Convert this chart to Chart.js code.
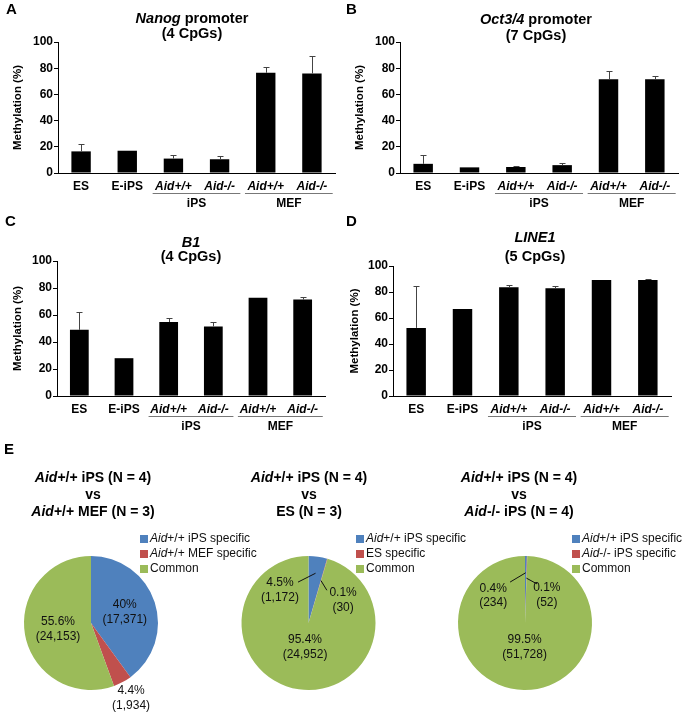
<!DOCTYPE html>
<html>
<head>
<meta charset="utf-8">
<script src="https://cdn.jsdelivr.net/npm/chart.js@4.4.1/dist/chart.umd.min.js"></script>
<style>
  body { margin: 0; background: #fff; width: 686px; height: 713px; position: relative; overflow: hidden; }
  canvas { position: absolute; }
</style>
</head>
<body>
<canvas id="chartA" width="343" height="214" style="left:0;top:0"></canvas>
<canvas id="chartB" width="343" height="214" style="left:343px;top:0"></canvas>
<canvas id="chartC" width="343" height="226" style="left:0;top:214px"></canvas>
<canvas id="chartD" width="343" height="226" style="left:343px;top:214px"></canvas>
<canvas id="pie1" width="262" height="273" style="left:0;top:440px"></canvas>
<canvas id="pie2" width="240" height="273" style="left:230px;top:440px"></canvas>
<canvas id="pie3" width="231" height="273" style="left:455px;top:440px"></canvas>
<script>
const FAMILY = "'Liberation Sans', Arial, sans-serif";
Chart.defaults.font.family = FAMILY;
Chart.defaults.color = "#000";

// --- bar charts (methylation %, mean and SD) ---
const categories = ["ES", "E-iPS", "Aid+/+", "Aid-/-", "Aid+/+", "Aid-/-"];
const groupNames = ["iPS", "MEF"];
const groupFrom = [2, 4];
const groupTo = [3, 5];

const nanogMean = [16.5, 17, 11, 10.5, 76.5, 76];
const nanogSd = [6, 0, 2.7, 2.2, 4.3, 13.5];
const oct4Mean = [7, 4.3, 4.6, 6, 71.5, 71.5];
const oct4Sd = [6.5, 0, 0.7, 1.5, 6, 2.8];
const b1Mean = [49, 28, 54.8, 51.5, 72.7, 71.4];
const b1Sd = [13.4, 0, 2.9, 3.5, 0, 2];
const line1Mean = [52.4, 67, 83.6, 82.9, 89.3, 89.3];
const line1Sd = [32, 0, 2.1, 2.1, 0, 0.5];

const yTicks = [0, 20, 40, 60, 80, 100];

// --- pie charts (counts of regions) ---
const colors = ["#4F81BD", "#C0504D", "#9BBB59"];
const pie1Legend = ["_Aid_+/+ iPS specific", "_Aid_+/+ MEF specific", "Common"];
const pie1Counts = [17371, 1934, 24153];
const pie1Pct = ["40%", "4.4%", "55.6%"];
const pie2Legend = ["_Aid_+/+ iPS specific", "ES specific", "Common"];
const pie2Counts = [1172, 30, 24952];
const pie2Pct = ["4.5%", "0.1%", "95.4%"];
const pie3Legend = ["_Aid_+/+ iPS specific", "_Aid_-/- iPS specific", "Common"];
const pie3Counts = [234, 52, 51728];
const pie3Pct = ["0.4%", "0.1%", "99.5%"];

// text with _italic_ parts
function drawRich(ctx, str, x, y, size, weight, align) {
  const parts = str.split("_").map((t, i) => ({ t, it: i % 2 === 1 })).filter(p => p.t);
  const fontOf = p => (p.it ? "italic " : "") + weight + " " + size + "px " + FAMILY;
  let total = 0;
  parts.forEach(p => { ctx.font = fontOf(p); p.w = ctx.measureText(p.t).width; total += p.w; });
  let cx = align === "center" ? x - total / 2 : x;
  ctx.textAlign = "left";
  ctx.textBaseline = "middle";
  parts.forEach(p => { ctx.font = fontOf(p); ctx.fillText(p.t, cx, y); cx += p.w; });
}

function barChart(id, cfg) {
  const canvas = document.getElementById(id);
  const W = canvas.width, H = canvas.height;
  const a = cfg.area;

  const panelPlugin = {
    id: "panel" + id,
    afterDatasetsDraw(chart) {
      const ctx = chart.ctx;
      const y = chart.scales.y;
      const meta = chart.getDatasetMeta(0);
      ctx.save();
      // error bars (upper only)
      ctx.strokeStyle = "#444";
      ctx.lineWidth = 1;
      meta.data.forEach((bar, i) => {
        const sd = cfg.sd[i];
        if (!sd) return;
        const top = Math.round(y.getPixelForValue(cfg.mean[i] + sd)) + 0.5;
        const bx = Math.round(bar.x) + 0.5;
        ctx.beginPath();
        ctx.moveTo(bx, bar.y);
        ctx.lineTo(bx, top);
        ctx.moveTo(bx - 3, top);
        ctx.lineTo(bx + 3, top);
        ctx.stroke();
      });
      ctx.restore();
    },
    afterDraw(chart) {
      const ctx = chart.ctx;
      const x = chart.scales.x;
      const area = chart.chartArea;
      const cw = x.width / categories.length;
      ctx.save();
      ctx.fillStyle = "#000";
      // group underlines and names
      groupNames.forEach((g, k) => {
        const x0 = x.getPixelForTick(groupFrom[k]) - cw * 0.45;
        const x1 = x.getPixelForTick(groupTo[k]) + cw * 0.45;
        const ly = Math.round(area.bottom + 20) + 0.5;
        ctx.strokeStyle = "#777";
        ctx.lineWidth = 1;
        ctx.beginPath();
        ctx.moveTo(x0, ly);
        ctx.lineTo(x1, ly);
        ctx.stroke();
        drawRich(ctx, g, (x0 + x1) / 2, area.bottom + 31, 12, "bold", "center");
      });
      // title
      cfg.title.forEach((t, k) => drawRich(ctx, t, cfg.titleX, cfg.titleY[k], 14.5, "bold", "center"));
      // panel letter
      drawRich(ctx, cfg.letter, cfg.letterPos[0], cfg.letterPos[1], 15, "bold", "left");
      ctx.restore();
    }
  };

  new Chart(canvas, {
    type: "bar",
    data: {
      labels: categories,
      datasets: [{
        data: cfg.mean,
        backgroundColor: "#000",
        barPercentage: 0.42,
        categoryPercentage: 1
      }]
    },
    options: {
      responsive: false,
      animation: false,
      layout: { padding: { left: 0, top: a.top, right: W - a.right, bottom: 0 } },
      plugins: { legend: { display: false }, tooltip: { enabled: false } },
      scales: {
        x: {
          grid: { display: false, drawTicks: false },
          border: { display: true, color: "#000", width: 1 },
          ticks: {
            color: "#000",
            padding: 6,
            autoSkip: false,
            maxRotation: 0,
            font: c => ({
              family: FAMILY, size: 12, weight: "bold",
              style: c.tick && /^Aid/.test(c.tick.label) ? "italic" : "normal"
            })
          },
          afterFit: s => { s.height = H - a.bottom; }
        },
        y: {
          min: 0,
          max: 100,
          afterBuildTicks: s => { s.ticks = yTicks.map(v => ({ value: v })); },
          ticks: { color: "#000", padding: 1, font: { size: 12, weight: "bold" } },
          grid: { display: true, drawOnChartArea: false, drawTicks: true, tickLength: 4, color: "#000" },
          border: { display: true, color: "#000", width: 1 },
          title: {
            display: true,
            text: "Methylation (%)",
            color: "#000",
            font: { size: 11.5, weight: "bold" },
            padding: { top: cfg.yTitlePad, bottom: 0 }
          },
          afterFit: s => { s.width = a.left; }
        }
      }
    },
    plugins: [panelPlugin]
  });
}

barChart("chartA", {
  mean: nanogMean, sd: nanogSd,
  title: ["_Nanog_ promoter", "(4 CpGs)"], titleX: 192, titleY: [19, 34],
  letter: "A", letterPos: [6, 10],
  area: { left: 58, right: 335, top: 42, bottom: 173 }, yTitlePad: 11
});
barChart("chartB", {
  mean: oct4Mean, sd: oct4Sd,
  title: ["_Oct3/4_ promoter", "(7 CpGs)"], titleX: 193, titleY: [20, 36],
  letter: "B", letterPos: [3, 10],
  area: { left: 57, right: 335, top: 42, bottom: 173 }, yTitlePad: 10
});
barChart("chartC", {
  mean: b1Mean, sd: b1Sd,
  title: ["_B1_", "(4 CpGs)"], titleX: 191, titleY: [29, 43],
  letter: "C", letterPos: [5, 8],
  area: { left: 57, right: 325, top: 47, bottom: 182 }, yTitlePad: 11
});
barChart("chartD", {
  mean: line1Mean, sd: line1Sd,
  title: ["_LINE1_", "(5 CpGs)"], titleX: 192, titleY: [24, 43],
  letter: "D", letterPos: [3, 8],
  area: { left: 50, right: 328, top: 52, bottom: 182 }, yTitlePad: 5
});

// polar helper: deg measured clockwise from 12 o'clock
function polar(cx, cy, R, deg, frac) {
  const r = (deg - 90) * Math.PI / 180;
  return [cx + Math.cos(r) * R * frac, cy + Math.sin(r) * R * frac];
}

function pieChart(id, cfg) {
  const canvas = document.getElementById(id);
  const W = canvas.width, H = canvas.height;
  const R = cfg.radius;

  const piePlugin = {
    id: "pie" + id,
    afterDraw(chart) {
      const ctx = chart.ctx;
      const meta = chart.getDatasetMeta(0);
      ctx.save();
      ctx.fillStyle = "#000";
      if (cfg.letter) drawRich(ctx, cfg.letter, 4, 10, 15, "bold", "left");
      cfg.title.forEach((t, k) => drawRich(ctx, t, cfg.titleX, 38 + k * 17, 14, "bold", "center"));
      // legend
      cfg.legend.forEach((t, k) => {
        const ly = 99 + k * 15;
        ctx.fillStyle = colors[k];
        ctx.fillRect(cfg.legendX, ly - 4, 8, 8);
        ctx.fillStyle = "#111";
        drawRich(ctx, t, cfg.legendX + 10, ly, 12, "normal", "left");
      });
      // slice labels
      meta.data.forEach((arc, i) => {
        const mid = ((arc.startAngle + arc.endAngle) / 2) * 180 / Math.PI + 90;
        const L = cfg.labels[i];
        const cx = arc.x, cy = arc.y, rr = arc.outerRadius;
        const [lx, ly] = polar(cx, cy, rr, L.a == null ? mid : L.a, L.r);
        if (L.lead) {
          const [sx, sy] = polar(cx, cy, rr, mid, L.lead[0]);
          const [ex, ey] = polar(cx, cy, rr, L.lead[1], L.lead[2]);
          ctx.strokeStyle = "#111";
          ctx.lineWidth = 1;
          ctx.beginPath();
          ctx.moveTo(sx, sy);
          ctx.lineTo(ex, ey);
          ctx.stroke();
        }
        ctx.fillStyle = "#111";
        drawRich(ctx, cfg.pct[i], lx, ly - 7, 12, "normal", "center");
        drawRich(ctx, "(" + cfg.counts[i].toLocaleString("en-US") + ")", lx, ly + 7.5, 12, "normal", "center");
      });
      ctx.restore();
    }
  };

  new Chart(canvas, {
    type: "pie",
    data: {
      labels: cfg.legend,
      datasets: [{ data: cfg.counts, backgroundColor: colors, borderWidth: 0 }]
    },
    options: {
      responsive: false,
      animation: false,
      layout: {
        padding: {
          left: cfg.center[0] - R,
          top: cfg.center[1] - R,
          right: W - cfg.center[0] - R,
          bottom: H - cfg.center[1] - R
        }
      },
      plugins: { legend: { display: false }, tooltip: { enabled: false } }
    },
    plugins: [piePlugin]
  });
}

pieChart("pie1", {
  counts: pie1Counts, pct: pie1Pct, legend: pie1Legend, letter: "E",
  title: ["_Aid_+/+ iPS (N = 4)", "vs", "_Aid_+/+ MEF (N = 3)"], titleX: 93,
  center: [91, 183], radius: 67, legendX: 140,
  labels: [{ r: 0.53 }, { r: 1.27 }, { r: 0.5 }]
});
pieChart("pie2", {
  counts: pie2Counts, pct: pie2Pct, legend: pie2Legend,
  title: ["_Aid_+/+ iPS (N = 4)", "vs", "ES (N = 3)"], titleX: 79,
  center: [78.5, 183], radius: 67, legendX: 126,
  labels: [
    { a: 319, r: 0.65, lead: [0.75, 345.6, 0.63] },
    { a: 56.3, r: 0.62, lead: [0.66, 29.3, 0.56] },
    { r: 0.36 }
  ]
});
pieChart("pie3", {
  counts: pie3Counts, pct: pie3Pct, legend: pie3Legend,
  title: ["_Aid_+/+ iPS (N = 4)", "vs", "_Aid_-/- iPS (N = 4)"], titleX: 64,
  center: [70, 183], radius: 67, legendX: 117,
  labels: [
    { a: 311, r: 0.63, lead: [0.75, 340, 0.65] },
    { a: 38, r: 0.53, lead: [0.67, 17.1, 0.61] },
    { r: 0.36 }
  ]
});
</script>
</body>
</html>
